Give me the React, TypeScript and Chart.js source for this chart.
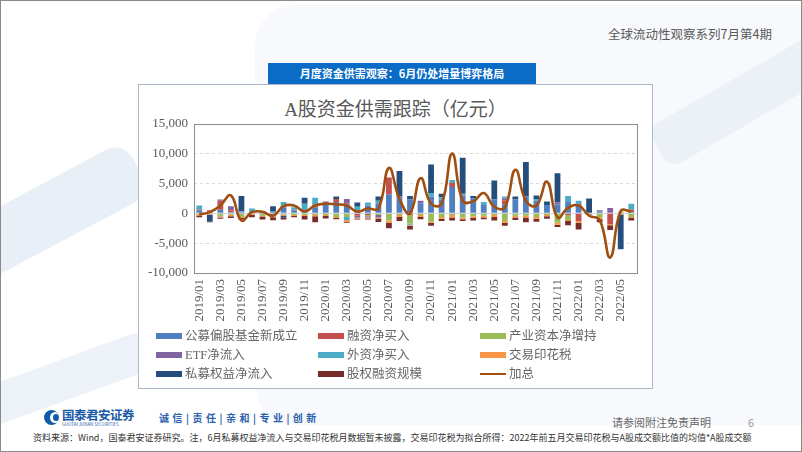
import React, { useEffect, useRef } from "react";
import { Chart, registerables } from "chart.js";

Chart.register(...registerables);

const months = [
  "2019/01", "2019/02", "2019/03", "2019/04", "2019/05", "2019/06", "2019/07", "2019/08", "2019/09", "2019/10", "2019/11", "2019/12",
  "2020/01", "2020/02", "2020/03", "2020/04", "2020/05", "2020/06", "2020/07", "2020/08", "2020/09", "2020/10", "2020/11", "2020/12",
  "2021/01", "2021/02", "2021/03", "2021/04", "2021/05", "2021/06", "2021/07", "2021/08", "2021/09", "2021/10", "2021/11", "2021/12",
  "2022/01", "2022/02", "2022/03", "2022/04", "2022/05", "2022/06",
];

const publicFund = [500, 300, 600, 200, 200, 300, 200, 300, 1000, 500, 700, 1000, 1700, 1900, 1500, 500, 1300, 1700, 3200, 2500, 2300, 1700, 2800, 2300, 4400, 3000, 2500, 1500, 2300, 1500, 2300, 2800, 2100, 1400, 1500, 1900, 1300, 0, 300, 0, 0, 200];
const marginBuy = [100, 200, 1500, 300, -100, 0, -100, 0, 200, 100, 0, 500, 0, 500, 200, -400, -300, 0, 2800, 0, -300, 0, 0, 0, 700, 0, 0, 0, 0, 700, 0, 0, 0, 0, 0, -300, -1300, 0, 0, -1800, 0, 400];
const industrial = [-200, -100, -400, -200, -500, -100, -300, -100, -200, -300, -300, -300, -300, -600, -600, 0, -200, -300, -1200, -300, -1400, -300, -1400, -600, -300, -700, -500, -400, -300, -1300, -400, -400, -600, -300, -1600, -800, 0, 0, -700, 0, 300, -600];
const etfFlow = [100, -50, 200, 700, 0, 0, 0, -300, 100, 0, 0, 0, 300, 0, 700, -300, -200, -400, 0, 300, 0, 400, 0, 0, 0, 0, 0, 0, 0, 300, 0, 0, 0, 0, 300, 0, 300, 0, 200, 900, 0, 0];
const foreignBuy = [600, 0, -100, -100, 100, 500, 0, -100, 600, 400, 900, 1100, 0, 0, -500, 600, 500, 400, 0, 0, -200, 0, 600, 400, 500, 300, 0, 400, 0, 300, 0, 0, 300, 0, 0, 1000, 500, 0, 0, 0, 0, 1000];
const stampTax = [-150, -150, -200, -200, -150, -150, -150, -150, -150, -150, -150, -200, -150, -200, -300, -150, -150, -150, -400, -300, -200, -300, -200, -300, -400, -300, -300, -300, -300, -300, -300, -300, -300, -200, -300, -200, -300, -150, -300, -200, -200, -200];
const privateFund = [0, -1100, 0, 0, 2600, 0, 0, 900, -300, 0, 1000, 0, 0, 400, 0, 700, 0, 700, 0, 4300, 600, 0, 4800, 600, 0, 6000, 400, 0, 3200, 0, 500, 5800, 600, 600, 4900, 0, 0, 2500, 0, 0, -5800, 0];
const equityFinancing = [-300, -100, -200, -300, -300, -400, -500, -500, -400, -200, -600, -1000, -400, -200, -200, -200, -200, -600, -900, -700, -600, -400, -500, -400, -500, -300, -400, -300, -600, -500, -400, -800, -500, -400, -400, -700, -1100, -100, -500, -800, 0, -400];
const totalLine = [-200, 200, 1300, 3000, -1200, 200, 250, -400, 1200, 1300, 300, 1300, 1600, 1500, 1300, 300, 800, 800, 7600, 2400, 0, 5900, 1600, 1600, 10000, 2100, 2000, 3400, 1100, 1000, 7300, 2100, 1300, 5300, -700, 900, 1300, -400, -1100, -7400, 400, 300];

const yTicks = [-10000, -5000, 0, 5000, 10000, 15000];

const barSeries = [
  { name: "公募偏股基金新成立", data: publicFund, color: "#4f7fc0" },
  { name: "融资净买入", data: marginBuy, color: "#c4504d" },
  { name: "产业资本净增持", data: industrial, color: "#9bbb59" },
  { name: "ETF净流入", data: etfFlow, color: "#8064a2" },
  { name: "外资净买入", data: foreignBuy, color: "#4bacc6" },
  { name: "交易印花税", data: stampTax, color: "#f79646" },
  { name: "私募权益净流入", data: privateFund, color: "#264e7c" },
  { name: "股权融资规模", data: equityFinancing, color: "#772c2a" },
];
const lineSeries = { name: "加总", data: totalLine, color: "#a14f10" };

const SERIF = "'Liberation Serif', 'Times New Roman', 'Noto Sans CJK SC', serif";
const SANS = "'Noto Sans CJK SC', 'Noto Sans', sans-serif";

const framePlugin = {
  id: "frame",
  beforeDatasetsDraw(chart: any) {
    const { ctx, chartArea, scales } = chart;
    const y0 = Math.round(scales.y.getPixelForValue(0)) + 0.5;
    ctx.save();
    ctx.strokeStyle = "#d4d9e0";
    ctx.lineWidth = 1;
    ctx.beginPath();
    ctx.moveTo(chartArea.left, y0);
    ctx.lineTo(chartArea.right, y0);
    ctx.stroke();
    ctx.restore();
  },
  afterDraw(chart: any) {
    const { ctx, chartArea } = chart;
    ctx.save();
    ctx.strokeStyle = "#8c8c8c";
    ctx.lineWidth = 1;
    ctx.strokeRect(
      Math.round(chartArea.left) + 0.5,
      Math.round(chartArea.top) + 0.5,
      Math.round(chartArea.right - chartArea.left),
      Math.round(chartArea.bottom - chartArea.top)
    );
    ctx.restore();
  },
};

function ChartCanvas() {
  const ref = useRef<HTMLCanvasElement | null>(null);
  useEffect(() => {
    if (!ref.current) return;
    const datasets: any[] = [
      {
        type: "line",
        label: lineSeries.name,
        data: lineSeries.data,
        borderColor: lineSeries.color,
        backgroundColor: lineSeries.color,
        borderWidth: 2.6,
        pointRadius: 0,
        tension: 0.45,
        fill: false,
        order: 0,
        stack: "total",
      },
      ...barSeries.map((s) => ({
        type: "bar",
        label: s.name,
        data: s.data,
        backgroundColor: s.color,
        borderWidth: 0,
        barPercentage: 0.55,
        categoryPercentage: 1,
        order: 1,
        stack: "bars",
      })),
    ];
    const chart = new Chart(ref.current, {
      type: "bar",
      data: { labels: months, datasets },
      options: {
        animation: false,
        responsive: false,
        maintainAspectRatio: false,
        layout: { padding: { top: 2, right: 12, left: 0, bottom: 0 } },
        plugins: {
          legend: { display: false },
          title: { display: false },
          tooltip: { enabled: false },
        },
        scales: {
          x: {
            stacked: true,
            grid: { display: false, drawTicks: false },
            border: { display: false },
            ticks: {
              autoSkip: false,
              maxRotation: 90,
              minRotation: 90,
              padding: 6,
              color: "#595959",
              font: { family: SERIF, size: 13 },
              callback: (_v: any, i: number) => (i % 2 === 0 ? months[i] : ""),
            },
            afterFit: (s: any) => {
              s.height = 58;
            },
          },
          y: {
            stacked: true,
            min: yTicks[0],
            max: yTicks[yTicks.length - 1],
            afterBuildTicks: (s: any) => {
              s.ticks = yTicks.map((v) => ({ value: v }));
            },
            ticks: {
              padding: 6,
              color: "#595959",
              font: { family: SERIF, size: 13 },
              callback: (v: any) => Number(v).toLocaleString("en-US"),
            },
            grid: {
              drawTicks: false,
              color: (c: any) => {
                const v = c.tick ? c.tick.value : null;
                if (v === 0 || v === yTicks[0] || v === yTicks[yTicks.length - 1]) return "rgba(0,0,0,0)";
                return "#d9d9d9";
              },
            },
            border: { display: false, dash: [3, 3] },
            afterFit: (s: any) => {
              s.width = 55;
            },
          },
        },
      } as any,
      plugins: [framePlugin],
    });
    return () => chart.destroy();
  }, []);
  return (
    <canvas
      ref={ref}
      width={514}
      height={221}
      style={{ position: "absolute", left: 138, top: 109, width: 514, height: 221 }}
    />
  );
}

const legendCols = [155, 317, 479];
const legendRows = [335, 354, 373];

export default function App() {
  const legendItems = [...barSeries.map((s) => ({ ...s, kind: "bar" })), { ...lineSeries, kind: "line" }];
  return (
    <div
      style={{
        position: "fixed",
        left: 0,
        top: 0,
        width: 802,
        height: 452,
        background: "#ffffff",
        overflow: "hidden",
        boxSizing: "border-box",
        border: "1px solid #8a8a8a",
        fontFamily: SANS,
      }}
    >
      {/* faint decorative background */}
      <div style={{ position: "absolute", left: 254, top: 4, width: 620, height: 420, borderRadius: 40, background: "#f7f9fc" }} />
      <div style={{ position: "absolute", left: -80, top: 190, width: 230, height: 60, background: "rgba(205,220,238,0.45)", transform: "rotate(-28deg)", borderRadius: 20 }} />
      <div style={{ position: "absolute", left: -40, top: 360, width: 200, height: 40, background: "rgba(215,226,240,0.45)", transform: "rotate(-20deg)", borderRadius: 20 }} />
      <div style={{ position: "absolute", left: 640, top: 60, width: 260, height: 46, background: "rgba(225,233,243,0.5)", transform: "rotate(-30deg)", borderRadius: 12 }} />

      {/* header */}
      <div style={{ position: "absolute", left: 560, top: 24, width: 211, textAlign: "right", fontSize: 12.5, color: "#595959", lineHeight: "18px", whiteSpace: "nowrap" }}>
        全球流动性观察系列7月第4期
      </div>

      {/* banner */}
      <div
        style={{
          position: "absolute",
          left: 267,
          top: 62,
          width: 268,
          height: 21,
          background: "#0b6cc6",
          color: "#ffffff",
          fontWeight: 700,
          fontSize: 11,
          lineHeight: "21px",
          textAlign: "center",
          whiteSpace: "nowrap",
        }}
      >
        月度资金供需观察：6月仍处增量博弈格局
      </div>

      {/* chart box */}
      <div style={{ position: "absolute", left: 137, top: 83, width: 515, height: 305, boxSizing: "border-box", border: "1px solid #aab8c8", background: "#ffffff" }} />
      <div style={{ position: "absolute", left: 137, top: 97, width: 515, textAlign: "center", fontFamily: SERIF, fontSize: 19, color: "#595959", lineHeight: "24px", whiteSpace: "nowrap" }}>
        A股资金供需跟踪（亿元）
      </div>

      <ChartCanvas />

      {/* legend */}
      {legendItems.map((it, i) => {
        const col = i % 3;
        const row = Math.floor(i / 3);
        const x = legendCols[col];
        const cy = legendRows[row];
        return (
          <React.Fragment key={it.name}>
            {it.kind === "bar" ? (
              <div style={{ position: "absolute", left: x, top: cy - 3, width: 26, height: 6, background: it.color }} />
            ) : (
              <div style={{ position: "absolute", left: x, top: cy - 1, width: 26, height: 2, background: it.color }} />
            )}
            <div
              style={{
                position: "absolute",
                left: x + 29,
                top: cy - 9,
                height: 18,
                lineHeight: "18px",
                fontSize: 12.5,
                fontFamily: SERIF,
                color: "#666666",
                whiteSpace: "nowrap",
              }}
            >
              {it.name}
            </div>
          </React.Fragment>
        );
      })}

      {/* footer */}
      <div style={{ position: "absolute", left: 43, top: 409, width: 15, height: 15, borderRadius: "50%", background: "#0f5aa8", overflow: "hidden" }}>
        <div style={{ position: "absolute", left: 6, top: 2, width: 10, height: 11, borderRadius: "50%", background: "#ffffff" }} />
        <div style={{ position: "absolute", left: 9, top: 4, width: 6, height: 7, borderRadius: "50%", background: "#0f5aa8" }} />
      </div>
      <div style={{ position: "absolute", left: 61, top: 407, fontSize: 12.5, fontWeight: 700, color: "#1b5aa6", lineHeight: "14px", whiteSpace: "nowrap", letterSpacing: -0.5 }}>
        国泰君安证券
      </div>
      <div style={{ position: "absolute", left: 61, top: 421, fontSize: 8, color: "#1b5aa6", lineHeight: "8px", whiteSpace: "nowrap", transform: "scale(0.55)", transformOrigin: "left top" }}>
        GUOTAI JUNAN SECURITIES
      </div>
      <div style={{ position: "absolute", left: 158, top: 410, fontSize: 10, fontWeight: 700, color: "#2b62ad", lineHeight: "14px", whiteSpace: "nowrap", letterSpacing: 3.5 }}>
        诚信|责任|亲和|专业|创新
      </div>
      <div style={{ position: "absolute", left: 611, top: 413, fontSize: 11, color: "#666666", lineHeight: "16px", whiteSpace: "nowrap" }}>
        请参阅附注免责声明
      </div>
      <div style={{ position: "absolute", left: 747, top: 413, fontSize: 11, color: "#9a9a9a", lineHeight: "16px" }}>6</div>
      <div style={{ position: "absolute", left: 32, top: 431, fontSize: 9, color: "#333333", lineHeight: "12px", whiteSpace: "nowrap" }}>
        资料来源：Wind，国泰君安证券研究。注，6月私募权益净流入与交易印花税月数据暂未披露，交易印花税为拟合所得：2022年前五月交易印花税与A股成交额比值的均值*A股成交额
      </div>
    </div>
  );
}
